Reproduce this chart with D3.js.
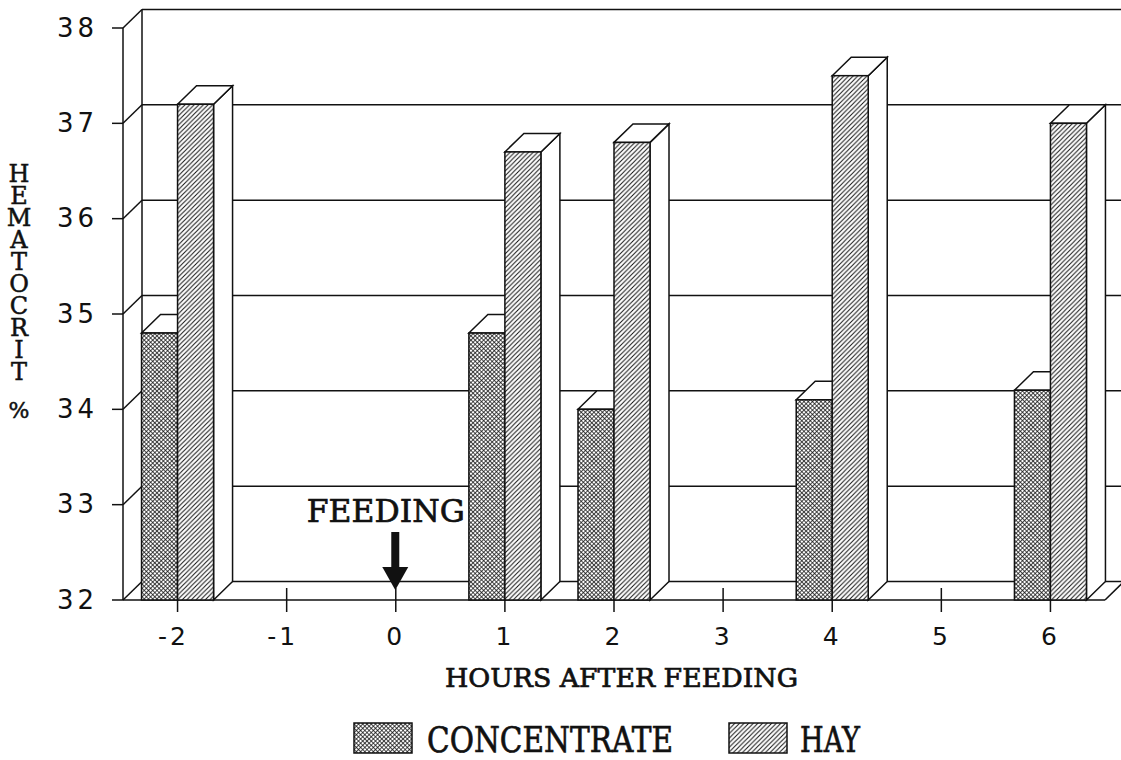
<!DOCTYPE html>
<html>
<head>
<meta charset="utf-8">
<script src="https://cdn.jsdelivr.net/npm/d3@7"></script>
<style>
  html, body { margin: 0; padding: 0; background: #fff; }
  svg { display: block; }
</style>
</head>
<body>
<script>
// Hematocrit by hour relative to feeding, concentrate vs hay diets
const categories = ["-2", "-1", "0", "1", "2", "3", "4", "5", "6"];
const concentrate = [34.8, null, null, 34.8, 34.0, null, 34.1, null, 34.2];
const hay = [37.2, null, null, 36.7, 36.8, null, 37.5, null, 37.0];
const yTicks = [32, 33, 34, 35, 36, 37, 38];
const yTitle = "HEMATOCRIT";
const yUnit = "%";
const xTitle = "HOURS AFTER FEEDING";
const seriesNames = ["CONCENTRATE", "HAY"];
const feedingLabel = "FEEDING";
const feedingAt = "0";

const W = 1121, H = 760;
const ink = "#111";
const serif = "'DejaVu Serif', 'Liberation Serif', serif";
const sans = "'DejaVu Sans', 'Liberation Sans', sans-serif";

// 3-D depth offset of the back wall
const dx = 19, dy = -18.5;

const x = d3.scaleBand().domain(categories).range([123, 1105]);
const y = d3.scaleLinear().domain([32, 38]).range([600, 28]);
const barW = x.bandwidth() * 0.33;
const cx = c => x(c) + x.bandwidth() / 2;

const svg = d3.select("body").append("svg")
  .attr("width", W).attr("height", H)
  .attr("viewBox", `0 0 ${W} ${H}`);

// fill patterns
const defs = svg.append("defs");
const hatch = defs.append("pattern")
  .attr("id", "hatch").attr("patternUnits", "userSpaceOnUse")
  .attr("width", 4.6).attr("height", 4.6);
hatch.append("rect").attr("width", 4.6).attr("height", 4.6).attr("fill", "#fff");
hatch.append("path")
  .attr("d", "M0,4.6 L4.6,0 M-1.15,1.15 L1.15,-1.15 M3.45,5.75 L5.75,3.45")
  .attr("stroke", ink).attr("stroke-width", 1);

const cross = defs.append("pattern")
  .attr("id", "cross").attr("patternUnits", "userSpaceOnUse")
  .attr("width", 3).attr("height", 3)
  .attr("patternTransform", "rotate(45)");
cross.append("rect").attr("width", 3).attr("height", 3).attr("fill", "#fff");
cross.append("path")
  .attr("d", "M0,0 L3,0 M0,0 L0,3")
  .attr("stroke", ink).attr("stroke-width", 1.5);

const line = (g, x1, y1, x2, y2, w = 1.5) =>
  g.append("line").attr("x1", x1).attr("y1", y1).attr("x2", x2).attr("y2", y2)
    .attr("stroke", ink).attr("stroke-width", w);

// back wall and floor
const frame = svg.append("g");
const xL = x.range()[0], xR = x.range()[1];
yTicks.forEach(t => {
  line(frame, xL + dx, y(t) + dy, xR + dx + 5, y(t) + dy);
  line(frame, xL, y(t), xL + dx, y(t) + dy);
  line(frame, xL - 11, y(t), xL, y(t));
});
line(frame, xL + dx, y(38) + dy, xL + dx, y(32) + dy);
line(frame, xL, y(38), xL, y(32));
line(frame, xL, y(32), xR, y(32));
line(frame, xR, y(32), xR + dx, y(32) + dy);

// category ticks
categories.forEach(c => line(frame, cx(c), y(32) - 12, cx(c), y(32) + 12));

// y tick labels
svg.append("g").selectAll("text").data(yTicks).join("text")
  .attr("x", 98).attr("y", d => y(d) + 1)
  .attr("text-anchor", "end").attr("dominant-baseline", "middle")
  .attr("font-family", sans).attr("font-size", 26)
  .attr("letter-spacing", 4).attr("fill", ink)
  .text(d => d);

// x tick labels
svg.append("g").selectAll("text").data(categories).join("text")
  .attr("x", d => cx(d) - (d.startsWith("-") ? 4 : 0)).attr("y", 638)
  .attr("text-anchor", "middle").attr("dominant-baseline", "middle")
  .attr("font-family", sans).attr("font-size", 25)
  .attr("letter-spacing", 3).attr("fill", ink)
  .text(d => d);

// bars
const bars = svg.append("g");
const base = y(32);
categories.forEach((c, i) => {
  const m = cx(c);
  if (concentrate[i] != null) {
    const top = y(concentrate[i]);
    const x0 = m - barW, x1 = m;
    bars.append("path")
      .attr("d", `M${x0},${top} L${x0 + dx},${top + dy} L${x1 + dx},${top + dy} L${x1},${top} Z`)
      .attr("fill", "#fff").attr("stroke", ink).attr("stroke-width", 1.5);
    bars.append("rect")
      .attr("x", x0).attr("y", top).attr("width", barW).attr("height", base - top)
      .attr("fill", "url(#cross)").attr("stroke", ink).attr("stroke-width", 1.5);
  }
  if (hay[i] != null) {
    const top = y(hay[i]);
    const x0 = m, x1 = m + barW;
    bars.append("path")
      .attr("d", `M${x1},${top} L${x1 + dx},${top + dy} L${x1 + dx},${base + dy} L${x1},${base} Z`)
      .attr("fill", "#fff").attr("stroke", ink).attr("stroke-width", 1.5);
    bars.append("path")
      .attr("d", `M${x0},${top} L${x0 + dx},${top + dy} L${x1 + dx},${top + dy} L${x1},${top} Z`)
      .attr("fill", "#fff").attr("stroke", ink).attr("stroke-width", 1.5);
    bars.append("rect")
      .attr("x", x0).attr("y", top).attr("width", barW).attr("height", base - top)
      .attr("fill", "url(#hatch)").attr("stroke", ink).attr("stroke-width", 1.5);
  }
});

// serif label helper, slightly emboldened
const label = (g, txt, xPos, yPos, size, len) =>
  g.append("text")
    .attr("x", xPos).attr("y", yPos)
    .attr("textLength", len).attr("lengthAdjust", "spacingAndGlyphs")
    .attr("font-family", serif).attr("font-size", size)
    .attr("fill", ink).attr("stroke", ink).attr("stroke-width", 0.7)
    .text(txt);

// feeding marker
const fx = cx(feedingAt);
label(svg, feedingLabel, fx - 89, 522, 32, 158);
svg.append("rect").attr("x", fx - 4.5).attr("y", 532).attr("width", 8).attr("height", 36).attr("fill", ink);
svg.append("path")
  .attr("d", `M${fx - 13.5},567 L${fx + 12.5},567 L${fx - 0.5},590 Z`)
  .attr("fill", ink);

// axis titles
label(svg, xTitle, 445, 687, 26, 353);

// stacked upright y title, set as one vertical run
svg.append("text")
  .attr("x", 19).attr("y", 160)
  .attr("font-family", serif).attr("font-size", 24)
  .attr("fill", ink).attr("stroke", ink).attr("stroke-width", 0.5)
  .style("writing-mode", "vertical-rl")
  .style("text-orientation", "upright")
  .attr("letter-spacing", -6)
  .text(yTitle);
svg.append("text").attr("x", 19).attr("y", 418)
  .attr("font-family", serif).attr("font-size", 22)
  .attr("fill", ink).attr("stroke", ink).attr("stroke-width", 0.5)
  .attr("text-anchor", "middle").text(yUnit);

// legend
const legend = svg.append("g");
legend.append("rect").attr("x", 354).attr("y", 723).attr("width", 58).attr("height", 30)
  .attr("fill", "url(#cross)").attr("stroke", ink).attr("stroke-width", 1.5);
label(legend, seriesNames[0], 427, 752, 36, 246);
legend.append("rect").attr("x", 729).attr("y", 723).attr("width", 58).attr("height", 30)
  .attr("fill", "url(#hatch)").attr("stroke", ink).attr("stroke-width", 1.5);
label(legend, seriesNames[1], 800, 752, 36, 60);
</script>
</body>
</html>
